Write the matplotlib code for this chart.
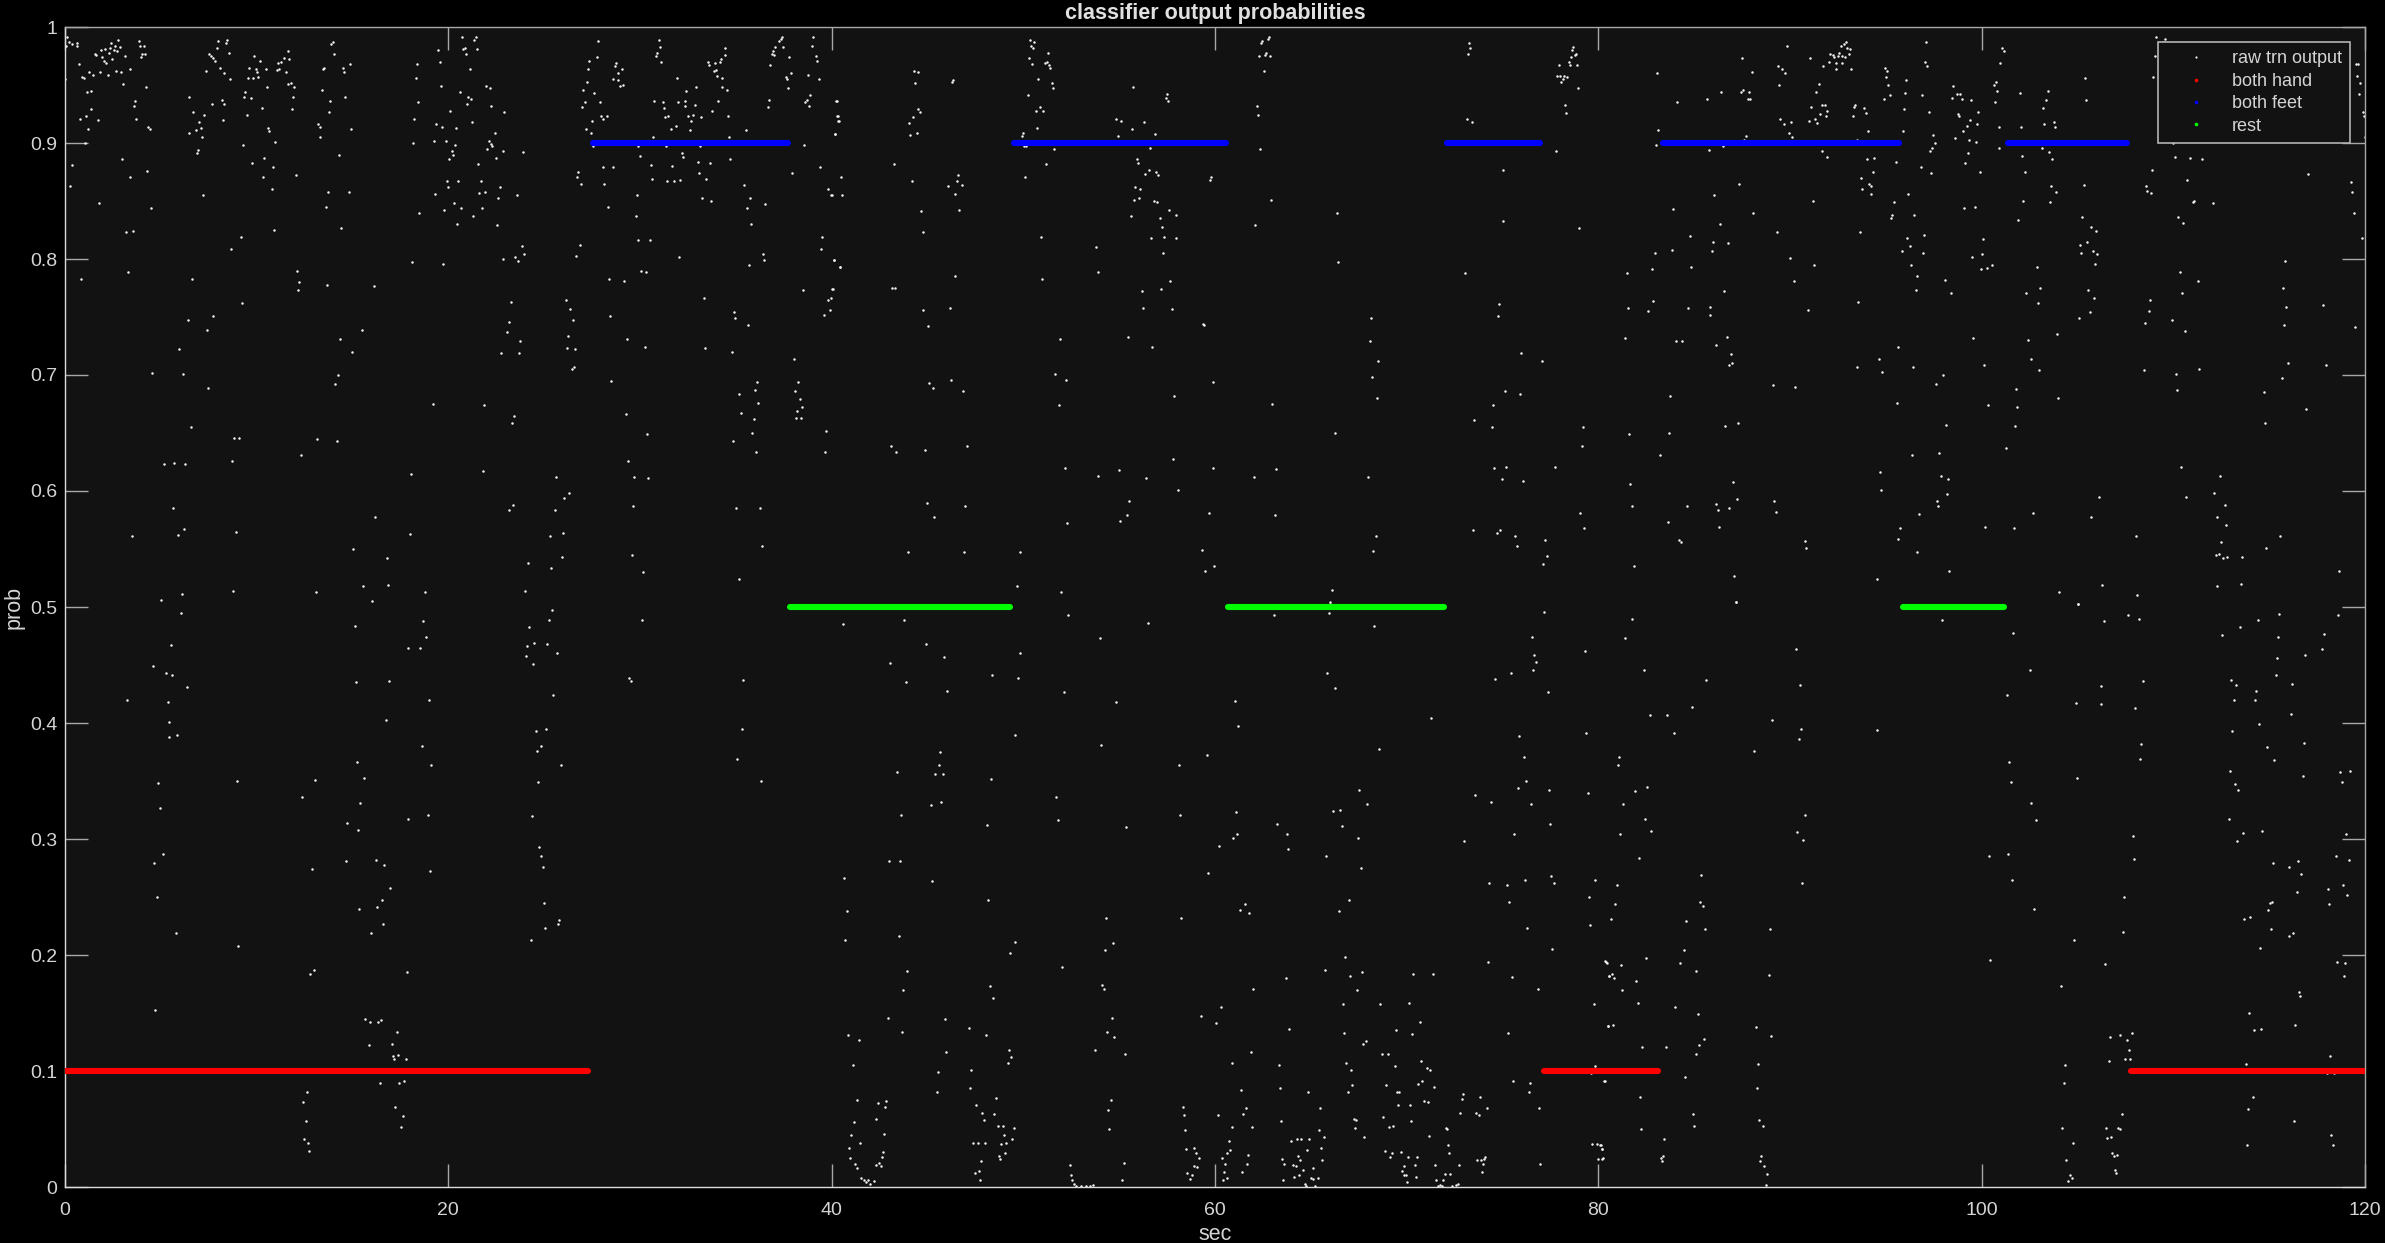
import numpy as np
import matplotlib
matplotlib.use("Agg")
import matplotlib.pyplot as plt
from matplotlib.lines import Line2D
from matplotlib.ticker import FuncFormatter

plt.rcParams['font.family'] = ['Liberation Sans', 'DejaVu Sans']

# raw classifier output (sec, prob)
raw_upper_0_40 = [
    (0.13, 0.991), (0.21, 0.987), (0.05, 0.984), (0.39, 0.985), (0.60, 0.984), (0.65, 0.986),
    (1.56, 0.977), (1.64, 0.976), (1.90, 0.980), (2.08, 0.981), (2.29, 0.978), (2.42, 0.986),
    (2.60, 0.984), (2.78, 0.989), (2.86, 0.983), (2.55, 0.980), (2.73, 0.979), (2.34, 0.982),
    (1.95, 0.974), (2.03, 0.971), (2.16, 0.969), (2.47, 0.972), (3.12, 0.975), (3.84, 0.988),
    (3.90, 0.984), (4.10, 0.984), (4.03, 0.977), (4.16, 0.977), (3.97, 0.974), (0.91, 0.957),
    (0.99, 0.956), (1.25, 0.961), (1.45, 0.959), (1.82, 0.961), (2.23, 0.959), (2.67, 0.962),
    (2.93, 0.961), (3.38, 0.964), (0.73, 0.968), (3.04, 0.951), (0.02, 0.955),
    (1.14, 0.944), (1.38, 0.945), (1.35, 0.929), (0.78, 0.921), (1.09, 0.923), (1.71, 0.920),
    (1.22, 0.912), (3.64, 0.936), (3.58, 0.932), (3.71, 0.921), (4.23, 0.948), (4.31, 0.914),
    (4.42, 0.912), (1.04, 0.900), (0.34, 0.881), (0.26, 0.863), (2.99, 0.886), (3.40, 0.871),
    (4.29, 0.876), (1.77, 0.848), (4.47, 0.844), (3.17, 0.823), (3.56, 0.824), (0.83, 0.783),
    (3.30, 0.789), (4.52, 0.702), (3.48, 0.561), (5.01, 0.506), (6.10, 0.511),
    (8.00, 0.988), (8.44, 0.989), (8.39, 0.986), (7.92, 0.982), (8.57, 0.978), (7.53, 0.977),
    (7.61, 0.975), (7.74, 0.973), (7.84, 0.971), (7.35, 0.962), (8.10, 0.965), (8.31, 0.960),
    (8.62, 0.955), (6.47, 0.940), (6.70, 0.927), (7.27, 0.924), (7.01, 0.918), (7.09, 0.913),
    (6.81, 0.911), (6.49, 0.909), (7.14, 0.905), (8.18, 0.937), (8.31, 0.934), (7.66, 0.934),
    (8.23, 0.920), (6.96, 0.894), (6.88, 0.891), (7.22, 0.855), (9.84, 0.975), (10.18, 0.971),
    (9.61, 0.965), (9.95, 0.964), (10.00, 0.961), (9.56, 0.956), (9.79, 0.956), (10.08, 0.957),
    (10.47, 0.964), (9.40, 0.944), (9.35, 0.940), (9.69, 0.939), (9.48, 0.924), (10.26, 0.930),
    (10.55, 0.948), (10.60, 0.913), (10.65, 0.910), (10.96, 0.901), (9.30, 0.898), (9.74, 0.883),
    (10.39, 0.887), (10.86, 0.879), (10.34, 0.871), (10.78, 0.860), (10.91, 0.825), (9.17, 0.819),
    (8.68, 0.809), (11.09, 0.969), (11.25, 0.970), (11.43, 0.973), (11.64, 0.979), (11.69, 0.972),
    (11.17, 0.964), (11.04, 0.963), (11.51, 0.961), (11.61, 0.951), (11.77, 0.952), (11.95, 0.948),
    (11.90, 0.940), (11.82, 0.929), (12.03, 0.872),
    (13.97, 0.987), (13.90, 0.985), (14.03, 0.977), (13.51, 0.965), (13.45, 0.964), (14.49, 0.965),
    (14.86, 0.968), (14.55, 0.961), (13.43, 0.946), (13.84, 0.936), (14.60, 0.940), (13.79, 0.927),
    (13.22, 0.916), (13.32, 0.914), (13.30, 0.905), (14.94, 0.912), (14.29, 0.890), (13.71, 0.858),
    (14.80, 0.858), (13.61, 0.845), (14.42, 0.827),
    (6.65, 0.783), (12.08, 0.790), (12.21, 0.780), (12.16, 0.773), (13.69, 0.778), (16.10, 0.777),
    (9.22, 0.762), (6.42, 0.747), (7.71, 0.751), (7.40, 0.739), (5.97, 0.722), (6.16, 0.701),
    (7.48, 0.689), (14.36, 0.731), (15.48, 0.739), (14.99, 0.720), (14.23, 0.700), (14.10, 0.692),
    (6.57, 0.655), (8.83, 0.646), (9.09, 0.646), (8.70, 0.626), (13.17, 0.645), (14.18, 0.643),
    (12.29, 0.631), (5.19, 0.623), (5.71, 0.624), (6.26, 0.623), (5.66, 0.585), (6.21, 0.567),
    (5.90, 0.562), (8.91, 0.565), (16.16, 0.578), (15.04, 0.550), (16.78, 0.542), (15.53, 0.518),
    (16.83, 0.519), (8.78, 0.514), (13.12, 0.513), (16.03, 0.505), (18.78, 0.513), (18.05, 0.615),
    (18.00, 0.563), (19.20, 0.675), (21.84, 0.674),
    (20.73, 0.991), (21.43, 0.991), (21.35, 0.989), (20.86, 0.982), (20.78, 0.981), (21.48, 0.981),
    (20.94, 0.977), (19.48, 0.980), (19.56, 0.970), (18.36, 0.968), (18.31, 0.956), (21.12, 0.964),
    (19.61, 0.949), (20.60, 0.944), (21.04, 0.940), (21.17, 0.938), (20.99, 0.934), (21.95, 0.949),
    (22.15, 0.947), (22.23, 0.932), (18.44, 0.935), (20.10, 0.928), (22.93, 0.927), (18.23, 0.921),
    (19.38, 0.916), (19.69, 0.914), (20.42, 0.913), (21.25, 0.918), (22.42, 0.909), (18.18, 0.900),
    (19.25, 0.902), (19.87, 0.902), (20.36, 0.898), (20.18, 0.893), (20.26, 0.890), (20.05, 0.886),
    (22.10, 0.902), (22.21, 0.899), (22.29, 0.897), (22.03, 0.895), (22.86, 0.893), (23.87, 0.892),
    (22.49, 0.887), (21.56, 0.882), (19.92, 0.867), (20.00, 0.862), (20.52, 0.867), (21.69, 0.867),
    (19.30, 0.856), (21.61, 0.857), (21.90, 0.858), (22.68, 0.862), (22.60, 0.853), (23.56, 0.855),
    (20.31, 0.848), (20.68, 0.844), (19.79, 0.842), (21.30, 0.837), (21.74, 0.844), (18.49, 0.840),
    (20.47, 0.830), (22.52, 0.829), (18.10, 0.797), (19.74, 0.796), (22.83, 0.800), (23.48, 0.802),
    (23.61, 0.798), (23.82, 0.811), (23.95, 0.804),
    (23.25, 0.763), (23.19, 0.746), (23.06, 0.737), (23.74, 0.729), (22.75, 0.719), (23.69, 0.719),
    (26.13, 0.765), (26.36, 0.757), (26.49, 0.747), (26.23, 0.734), (26.18, 0.723), (26.60, 0.722),
    (26.44, 0.705), (26.55, 0.707), (23.43, 0.665), (23.30, 0.659), (21.79, 0.617), (23.38, 0.588),
    (23.14, 0.584), (25.61, 0.612), (26.29, 0.598), (26.05, 0.594), (25.56, 0.584), (25.97, 0.564),
    (25.32, 0.561), (25.92, 0.543), (25.38, 0.534), (24.16, 0.538), (24.00, 0.514),
    (27.82, 0.988), (27.35, 0.971), (27.74, 0.974), (27.30, 0.964), (27.22, 0.953), (27.04, 0.946),
    (27.61, 0.943), (27.12, 0.935), (26.99, 0.931), (27.90, 0.935), (27.51, 0.919), (27.95, 0.923),
    (28.05, 0.921), (28.26, 0.923), (27.17, 0.912), (27.43, 0.909), (28.73, 0.969), (28.68, 0.966),
    (29.04, 0.964), (28.86, 0.960), (28.60, 0.955), (28.83, 0.954), (29.09, 0.950), (28.96, 0.949),
    (27.56, 0.897), (26.78, 0.875), (26.73, 0.871), (26.93, 0.865), (28.08, 0.879), (28.57, 0.879),
    (28.13, 0.865), (28.31, 0.845), (29.82, 0.855), (29.77, 0.837), (29.87, 0.816), (30.52, 0.816),
    (26.86, 0.812), (26.68, 0.803), (28.39, 0.783), (29.19, 0.781), (30.05, 0.790), (30.31, 0.789),
    (28.44, 0.751), (29.30, 0.731), (30.26, 0.724), (28.49, 0.695), (29.25, 0.666), (30.36, 0.649),
    (29.38, 0.626), (29.69, 0.612), (30.44, 0.611), (29.64, 0.587), (29.56, 0.545), (30.18, 0.530),
    (30.99, 0.989), (31.06, 0.983), (30.91, 0.978), (30.83, 0.975), (31.12, 0.970), (31.95, 0.956),
    (32.42, 0.945), (30.75, 0.936), (31.19, 0.935), (31.25, 0.930), (32.00, 0.935), (32.34, 0.936),
    (32.34, 0.932), (32.86, 0.933), (31.32, 0.922), (31.48, 0.923), (32.49, 0.923), (32.78, 0.924),
    (32.68, 0.919), (31.90, 0.915), (31.61, 0.912), (32.60, 0.911), (33.19, 0.922), (33.77, 0.928),
    (34.08, 0.936), (32.93, 0.948), (33.53, 0.970), (33.58, 0.967), (33.90, 0.969), (34.16, 0.970),
    (34.21, 0.972), (34.44, 0.982), (34.42, 0.976), (33.84, 0.962), (33.97, 0.963), (34.03, 0.958),
    (34.29, 0.956), (34.52, 0.946), (34.26, 0.948), (34.57, 0.923), (34.62, 0.905), (35.51, 0.911),
    (30.68, 0.905), (29.92, 0.897), (31.38, 0.897), (33.14, 0.897), (30.00, 0.889), (30.57, 0.881),
    (31.66, 0.880), (32.18, 0.891), (32.23, 0.888), (33.01, 0.884), (33.64, 0.883), (34.70, 0.886),
    (30.62, 0.869), (31.43, 0.867), (31.79, 0.867), (32.10, 0.868), (33.06, 0.874), (33.45, 0.869),
    (33.25, 0.853), (33.69, 0.850), (35.45, 0.864), (35.74, 0.853), (35.56, 0.844), (36.54, 0.847),
    (35.79, 0.830), (32.05, 0.802), (33.32, 0.766), (34.88, 0.754), (34.96, 0.749), (35.61, 0.743),
    (33.38, 0.723), (34.78, 0.720), (36.42, 0.804), (36.49, 0.799), (35.69, 0.795),
    (36.13, 0.694), (36.00, 0.687), (35.19, 0.684), (36.18, 0.676), (35.25, 0.667), (35.95, 0.662),
    (35.84, 0.650), (36.05, 0.634), (34.83, 0.643), (35.01, 0.585), (36.26, 0.585), (36.36, 0.553),
    (35.14, 0.524), (38.03, 0.714), (38.26, 0.694), (38.08, 0.686), (38.34, 0.679), (38.44, 0.672),
    (38.21, 0.669), (38.16, 0.663), (38.39, 0.663), (39.69, 0.652), (39.64, 0.634), (39.50, 0.819),
    (39.43, 0.809), (40.13, 0.799), (40.41, 0.793), (40.08, 0.774), (39.79, 0.765), (39.95, 0.766),
    (39.90, 0.756), (39.58, 0.752), (38.52, 0.773), (39.38, 0.879), (39.82, 0.860), (39.95, 0.855),
    (37.95, 0.874), (38.57, 0.898),
    (37.40, 0.991), (37.35, 0.990), (37.25, 0.988), (37.48, 0.983), (37.06, 0.983), (36.93, 0.979),
    (36.88, 0.977), (36.99, 0.976), (37.79, 0.974), (36.80, 0.967), (37.87, 0.960), (37.61, 0.957),
    (37.66, 0.955), (37.74, 0.947), (36.73, 0.937), (36.67, 0.931), (39.01, 0.991), (38.96, 0.984),
    (39.17, 0.975), (39.25, 0.971), (38.75, 0.959), (39.32, 0.955), (38.88, 0.941), (38.70, 0.937),
    (38.62, 0.935), (38.81, 0.932), (40.26, 0.936), (40.31, 0.923), (40.39, 0.919), (40.18, 0.908),
]

raw_lower_0_40 = [
    (6.03, 0.495), (5.51, 0.467), (4.60, 0.449), (5.27, 0.443), (5.58, 0.441), (6.34, 0.431),
    (3.22, 0.420), (5.35, 0.418), (5.45, 0.401), (5.84, 0.390), (5.40, 0.388), (4.83, 0.348),
    (4.96, 0.327), (5.09, 0.287), (4.65, 0.279), (4.78, 0.250), (5.77, 0.219), (4.70, 0.153),
    (5.14, 0.102), (8.99, 0.350), (9.04, 0.208),
    (15.12, 0.484), (18.68, 0.488), (18.86, 0.474), (17.92, 0.465), (18.54, 0.465), (15.17, 0.435),
    (16.91, 0.436), (18.99, 0.420), (16.73, 0.403), (18.60, 0.380), (19.12, 0.364), (15.22, 0.366),
    (15.58, 0.353), (13.04, 0.351), (12.34, 0.336), (15.40, 0.331), (14.73, 0.314), (15.27, 0.308),
    (17.87, 0.317), (18.93, 0.321), (14.68, 0.281), (16.21, 0.282), (16.65, 0.278), (12.91, 0.274),
    (19.04, 0.272), (16.96, 0.258), (16.55, 0.247), (15.35, 0.240), (16.29, 0.241), (16.60, 0.227),
    (15.97, 0.219), (12.80, 0.184), (12.99, 0.187), (17.82, 0.185), (15.66, 0.145), (15.92, 0.142),
    (16.34, 0.142), (16.47, 0.144), (17.30, 0.134), (15.84, 0.122), (17.04, 0.123), (17.12, 0.113),
    (17.35, 0.114), (17.17, 0.110), (17.77, 0.110), (15.71, 0.101), (16.41, 0.090), (17.43, 0.090),
    (17.69, 0.091), (12.60, 0.082), (12.42, 0.073), (12.55, 0.057), (12.47, 0.041), (12.68, 0.038),
    (12.75, 0.031), (17.22, 0.069), (17.61, 0.061), (17.53, 0.052),
    (25.43, 0.497), (25.25, 0.489), (24.23, 0.483), (24.10, 0.466), (24.49, 0.469), (25.17, 0.468),
    (25.66, 0.460), (24.05, 0.458), (24.44, 0.451), (25.48, 0.424), (24.57, 0.393), (25.12, 0.395),
    (24.86, 0.380), (24.62, 0.376), (25.87, 0.364), (24.68, 0.349), (24.36, 0.320), (24.75, 0.293),
    (24.81, 0.285), (24.94, 0.276), (25.01, 0.245), (25.79, 0.230), (25.74, 0.227), (25.06, 0.223),
    (24.31, 0.213),
    (30.13, 0.489), (29.43, 0.439), (29.51, 0.436), (35.38, 0.437), (35.32, 0.395), (35.06, 0.369),
    (36.31, 0.350),
]

raw_upper_40_80 = [
    (40.22, 0.936), (40.27, 0.923), (40.35, 0.919), (40.17, 0.908), (40.48, 0.871), (40.00, 0.855),
    (40.53, 0.855), (40.12, 0.799), (40.43, 0.793), (40.04, 0.774), (44.30, 0.962), (44.53, 0.961),
    (44.37, 0.952), (46.27, 0.953), (46.35, 0.954), (44.48, 0.929), (44.61, 0.927), (44.25, 0.922),
    (44.04, 0.917), (44.43, 0.909), (44.11, 0.907), (43.23, 0.882), (44.17, 0.867), (46.58, 0.872),
    (46.53, 0.867), (46.79, 0.864), (46.09, 0.863), (46.43, 0.856), (44.66, 0.841), (46.66, 0.842),
    (44.79, 0.823), (46.45, 0.785), (43.15, 0.775), (43.28, 0.775), (44.74, 0.756), (46.16, 0.758),
    (45.05, 0.742), (45.10, 0.693), (45.28, 0.689), (46.22, 0.696), (46.84, 0.686), (43.10, 0.639),
    (43.36, 0.634), (44.87, 0.635), (47.05, 0.639), (44.97, 0.590), (46.97, 0.587), (45.36, 0.578),
    (43.98, 0.547), (46.89, 0.547), (47.07, 0.501),
    (50.34, 0.989), (50.58, 0.987), (50.42, 0.984), (50.53, 0.982), (51.28, 0.978), (50.29, 0.973),
    (50.47, 0.968), (51.12, 0.969), (51.23, 0.970), (51.36, 0.967), (51.41, 0.965), (50.78, 0.955),
    (51.49, 0.952), (51.54, 0.947), (50.24, 0.941), (50.86, 0.931), (50.66, 0.928), (51.04, 0.928),
    (50.73, 0.913), (49.98, 0.909), (49.93, 0.906), (50.03, 0.897), (50.16, 0.897), (51.62, 0.895),
    (51.17, 0.882), (50.11, 0.871), (50.91, 0.819), (50.99, 0.783), (51.90, 0.731), (51.67, 0.701),
    (52.21, 0.696), (51.85, 0.674), (52.16, 0.620), (53.92, 0.613), (52.29, 0.572), (49.85, 0.547),
    (49.67, 0.518), (51.98, 0.513),
    (55.74, 0.948), (57.48, 0.942), (57.43, 0.939), (57.53, 0.936), (54.86, 0.921), (55.12, 0.919),
    (56.29, 0.918), (55.66, 0.912), (54.94, 0.906), (56.86, 0.908), (56.60, 0.896), (55.92, 0.886),
    (55.98, 0.883), (56.55, 0.877), (56.34, 0.873), (56.91, 0.875), (57.04, 0.872), (55.85, 0.862),
    (56.10, 0.860), (55.79, 0.851), (56.05, 0.853), (56.80, 0.850), (56.99, 0.849), (57.58, 0.842),
    (57.99, 0.838), (55.61, 0.837), (57.12, 0.835), (57.22, 0.828), (56.65, 0.818), (57.35, 0.819),
    (57.95, 0.818), (57.27, 0.805), (53.80, 0.810), (53.87, 0.789), (57.66, 0.781), (56.18, 0.772),
    (57.17, 0.774), (56.23, 0.758), (57.74, 0.757), (55.48, 0.733), (56.73, 0.724), (59.38, 0.744),
    (59.43, 0.743), (59.79, 0.871), (59.74, 0.868), (59.87, 0.694), (57.87, 0.682), (57.82, 0.628),
    (59.92, 0.620), (56.42, 0.611), (54.99, 0.618), (58.05, 0.601), (55.53, 0.591), (55.40, 0.579),
    (55.04, 0.574), (59.69, 0.581), (59.30, 0.549), (59.97, 0.535), (59.48, 0.531),
    (62.80, 0.991), (62.75, 0.990), (62.46, 0.988), (62.41, 0.986), (62.64, 0.978), (62.59, 0.976),
    (62.88, 0.975), (62.28, 0.975), (62.54, 0.962), (62.18, 0.932), (62.23, 0.924), (62.36, 0.895),
    (62.93, 0.851), (62.10, 0.829), (66.36, 0.840), (66.41, 0.797), (68.12, 0.749), (68.07, 0.729),
    (68.49, 0.712), (68.17, 0.698), (68.43, 0.680), (62.98, 0.675), (66.28, 0.650), (62.02, 0.612),
    (63.16, 0.619), (67.99, 0.612), (63.11, 0.579), (68.38, 0.561), (68.25, 0.548), (66.10, 0.515),
    (65.99, 0.504),
    (73.26, 0.986), (73.31, 0.982), (73.21, 0.977), (73.13, 0.921), (73.39, 0.918), (75.05, 0.877),
    (75.00, 0.833), (77.80, 0.893), (73.05, 0.788), (74.82, 0.761), (74.77, 0.751), (75.99, 0.719),
    (77.05, 0.712), (75.13, 0.686), (75.93, 0.684), (74.51, 0.674), (73.52, 0.661), (74.43, 0.655),
    (79.18, 0.655), (79.13, 0.639), (74.56, 0.620), (75.18, 0.621), (74.95, 0.610), (76.06, 0.609),
    (77.72, 0.621), (79.05, 0.581), (79.26, 0.568), (73.44, 0.566), (74.69, 0.564), (74.87, 0.566),
    (75.67, 0.561), (75.75, 0.553), (77.23, 0.558), (77.31, 0.544), (77.10, 0.537), (78.99, 0.827),
    (78.69, 0.983), (78.63, 0.980), (78.81, 0.977), (78.76, 0.976), (78.58, 0.974), (78.45, 0.970),
    (78.53, 0.967), (77.93, 0.967), (78.89, 0.967), (77.85, 0.958), (77.98, 0.958), (78.19, 0.958),
    (78.37, 0.957), (78.14, 0.955), (78.06, 0.953), (78.94, 0.947), (78.27, 0.933), (78.32, 0.926),
]

raw_lower_40_80 = [
    (40.61, 0.485), (43.78, 0.489), (44.92, 0.468), (45.85, 0.457), (43.05, 0.452), (43.86, 0.435),
    (46.04, 0.428), (45.67, 0.375), (45.59, 0.364), (45.41, 0.356), (45.80, 0.356), (43.41, 0.358),
    (45.72, 0.332), (45.18, 0.329), (43.62, 0.321), (42.99, 0.281), (43.54, 0.281), (45.23, 0.264),
    (40.66, 0.266), (40.79, 0.238), (40.71, 0.213), (43.49, 0.216), (43.93, 0.186), (43.73, 0.170),
    (42.95, 0.146), (45.90, 0.145), (43.67, 0.134), (40.84, 0.131), (41.42, 0.127), (45.96, 0.116),
    (41.10, 0.105), (45.54, 0.099), (45.49, 0.082), (41.34, 0.075), (42.40, 0.072), (42.84, 0.074),
    (42.79, 0.069), (41.16, 0.056), (42.32, 0.059), (42.71, 0.046), (41.03, 0.045), (41.47, 0.038),
    (40.90, 0.034), (42.66, 0.030), (42.61, 0.026), (40.97, 0.025), (41.21, 0.020), (42.30, 0.019),
    (42.48, 0.021), (42.56, 0.018), (41.31, 0.016), (41.52, 0.008), (41.67, 0.006), (41.80, 0.004),
    (41.99, 0.003), (42.19, 0.005), (41.91, 0.006),
    (48.35, 0.441), (49.72, 0.439), (49.80, 0.460), (49.59, 0.390), (48.29, 0.352), (48.11, 0.312),
    (48.16, 0.247), (49.54, 0.211), (49.28, 0.202), (48.24, 0.173), (48.42, 0.163), (47.15, 0.137),
    (48.06, 0.131), (49.23, 0.118), (49.36, 0.112), (49.18, 0.107), (47.28, 0.101), (47.23, 0.085),
    (48.55, 0.077), (47.54, 0.071), (48.48, 0.063), (47.85, 0.064), (47.93, 0.058), (48.68, 0.053),
    (48.94, 0.053), (49.49, 0.051), (48.97, 0.045), (49.41, 0.041), (47.36, 0.038), (47.62, 0.038),
    (48.01, 0.038), (48.86, 0.037), (49.10, 0.038), (49.02, 0.029), (48.73, 0.027), (48.79, 0.024),
    (47.77, 0.022), (47.67, 0.014), (47.49, 0.012), (47.75, 0.006),
    (52.34, 0.493), (54.00, 0.473), (56.50, 0.486), (52.10, 0.427), (54.81, 0.418), (54.06, 0.381),
    (51.72, 0.336), (51.80, 0.316), (55.35, 0.310), (54.29, 0.232), (54.68, 0.210), (54.24, 0.204),
    (52.03, 0.190), (54.11, 0.174), (54.19, 0.171), (54.63, 0.146), (54.37, 0.134), (54.73, 0.129),
    (53.74, 0.118), (55.30, 0.115), (54.55, 0.075), (54.42, 0.066), (54.47, 0.050), (55.25, 0.021),
    (55.17, 0.006), (52.42, 0.019), (52.47, 0.010), (52.55, 0.006), (52.63, 0.003), (52.76, 0.001),
    (53.02, 0.001), (53.28, 0.001), (53.46, 0.001), (53.61, 0.002),
    (58.13, 0.364), (59.56, 0.372), (58.18, 0.321), (58.23, 0.232), (59.63, 0.271), (59.25, 0.147),
    (60.05, 0.141), (60.31, 0.155), (58.31, 0.069), (58.36, 0.062), (58.44, 0.049), (58.49, 0.033),
    (58.93, 0.034), (59.01, 0.029), (59.17, 0.025), (58.88, 0.018), (59.06, 0.017), (58.54, 0.012),
    (58.78, 0.010), (58.67, 0.007), (60.18, 0.062), (60.88, 0.052), (60.72, 0.040), (60.80, 0.032),
    (60.65, 0.029), (60.36, 0.025), (60.54, 0.020), (61.43, 0.013), (60.46, 0.013), (60.62, 0.008),
    (60.41, 0.006), (61.35, 0.084), (61.61, 0.068), (61.48, 0.063), (61.92, 0.052), (61.71, 0.028),
    (61.66, 0.020), (60.91, 0.107), (61.87, 0.116), (61.97, 0.171),
    (61.04, 0.419), (61.22, 0.397), (61.11, 0.323), (60.96, 0.301), (61.17, 0.304), (60.23, 0.294),
    (61.55, 0.244), (61.30, 0.239), (61.79, 0.236), (63.06, 0.493), (65.94, 0.495), (65.99, 0.503),
    (68.30, 0.484), (65.86, 0.443), (66.25, 0.430), (71.29, 0.404), (68.56, 0.378), (67.52, 0.342),
    (67.91, 0.330), (66.17, 0.324), (66.54, 0.325), (66.62, 0.311), (67.47, 0.301), (63.24, 0.313),
    (63.76, 0.304), (63.81, 0.291), (65.79, 0.285), (67.60, 0.275), (66.98, 0.247), (66.49, 0.238),
    (66.80, 0.198), (65.73, 0.187), (67.03, 0.182), (67.65, 0.185), (63.68, 0.180), (67.42, 0.170),
    (66.67, 0.158), (68.61, 0.158), (70.12, 0.159), (70.35, 0.184), (71.37, 0.184), (69.45, 0.135),
    (70.30, 0.132), (70.69, 0.142), (63.87, 0.136), (66.72, 0.133), (67.86, 0.126), (67.73, 0.123),
    (68.69, 0.115), (69.00, 0.115), (66.85, 0.107), (67.11, 0.101), (69.37, 0.104), (70.74, 0.109),
    (71.05, 0.103), (71.24, 0.101), (63.32, 0.105), (67.16, 0.088), (66.93, 0.082), (63.37, 0.085),
    (64.85, 0.082), (68.93, 0.088), (69.50, 0.082), (69.60, 0.082), (70.61, 0.089), (70.82, 0.091),
    (71.42, 0.086), (70.92, 0.074), (71.11, 0.073), (70.17, 0.071), (69.55, 0.071), (65.50, 0.068),
    (67.24, 0.059), (67.34, 0.058), (67.29, 0.051), (68.75, 0.060), (70.25, 0.057), (69.08, 0.052),
    (69.29, 0.053), (67.79, 0.043), (63.45, 0.057), (65.42, 0.049), (65.68, 0.043), (63.94, 0.040),
    (64.26, 0.041), (64.49, 0.041), (64.93, 0.041), (65.55, 0.034), (64.80, 0.032), (64.31, 0.027),
    (64.44, 0.023), (63.50, 0.024), (63.61, 0.020), (64.07, 0.019), (64.23, 0.018), (65.60, 0.023),
    (64.57, 0.015), (65.09, 0.016), (64.39, 0.010), (64.13, 0.009), (63.55, 0.006), (65.01, 0.008),
    (65.09, 0.007), (65.37, 0.008), (64.67, 0.003), (64.75, 0.001), (65.22, 0.001), (68.85, 0.031),
    (69.21, 0.029), (69.13, 0.026), (69.68, 0.030), (70.07, 0.026), (70.56, 0.026), (69.86, 0.018),
    (70.43, 0.019), (69.76, 0.014), (69.84, 0.010), (69.94, 0.010), (70.48, 0.009), (70.02, 0.004),
    (71.16, 0.044), (72.04, 0.051), (72.12, 0.050), (72.17, 0.036), (72.22, 0.029), (71.50, 0.019),
    (72.72, 0.019), (72.00, 0.011), (72.27, 0.011), (71.91, 0.006), (71.73, 0.002), (71.63, 0.001),
    (71.83, 0.001), (72.35, 0.001), (72.56, 0.002), (72.67, 0.003), (71.55, 0.006),
    (77.15, 0.496), (76.53, 0.474), (76.66, 0.459), (76.76, 0.453), (76.61, 0.446), (79.31, 0.462),
    (77.36, 0.427), (75.44, 0.443), (74.61, 0.438), (79.36, 0.391), (75.86, 0.389), (76.12, 0.371),
    (76.22, 0.350), (75.80, 0.344), (77.41, 0.342), (76.48, 0.330), (79.44, 0.340), (73.55, 0.338),
    (74.38, 0.332), (77.49, 0.313), (75.62, 0.304), (72.98, 0.298), (74.30, 0.262), (75.23, 0.260),
    (76.17, 0.265), (77.54, 0.268), (77.67, 0.262), (79.80, 0.265), (75.36, 0.246), (79.49, 0.250),
    (76.30, 0.223), (79.57, 0.226), (77.59, 0.205), (74.25, 0.194), (75.49, 0.181), (76.87, 0.171),
    (79.75, 0.158), (75.31, 0.133), (80.50, 0.139), (80.42, 0.194), (80.55, 0.182), (75.54, 0.091),
    (76.43, 0.090), (76.37, 0.082), (72.93, 0.080), (73.80, 0.078), (72.87, 0.076), (74.19, 0.068),
    (72.79, 0.064), (73.62, 0.064), (73.75, 0.062), (76.92, 0.068), (79.67, 0.037), (79.91, 0.037),
    (80.09, 0.036), (80.19, 0.033), (79.99, 0.024), (80.19, 0.024), (74.09, 0.026), (74.01, 0.024),
    (73.68, 0.023), (73.86, 0.023), (73.98, 0.020), (73.93, 0.013), (76.97, 0.020), (79.62, 0.098),
    (79.83, 0.104), (80.35, 0.091),
]

raw_upper_80_120 = [
    (83.07, 0.960), (83.13, 0.911), (83.02, 0.898), (84.11, 0.935), (86.42, 0.944), (85.67, 0.938),
    (87.49, 0.973), (88.01, 0.961), (87.44, 0.944), (87.56, 0.946), (87.88, 0.944), (87.80, 0.938),
    (87.93, 0.938), (89.82, 0.984), (89.38, 0.966), (89.56, 0.964), (89.75, 0.960), (89.43, 0.950),
    (89.49, 0.921), (89.69, 0.916), (90.06, 0.918), (89.93, 0.909), (90.13, 0.905), (89.64, 0.902),
    (87.72, 0.906), (87.62, 0.903), (85.75, 0.894), (86.50, 0.897), (91.04, 0.973), (91.74, 0.966),
    (92.11, 0.977), (92.24, 0.976), (92.55, 0.978), (92.65, 0.984), (92.81, 0.985), (92.94, 0.987),
    (92.99, 0.982), (93.12, 0.981), (93.07, 0.977), (92.89, 0.974), (92.73, 0.975), (92.50, 0.975),
    (92.31, 0.974), (92.05, 0.970), (92.42, 0.969), (92.70, 0.969), (92.42, 0.964), (93.20, 0.964),
    (91.51, 0.951), (91.35, 0.944), (91.67, 0.933), (91.80, 0.933), (91.95, 0.928), (91.54, 0.925),
    (91.87, 0.923), (91.30, 0.921), (91.43, 0.917), (90.99, 0.919), (91.12, 0.931), (93.40, 0.933),
    (93.35, 0.931), (93.87, 0.930), (93.95, 0.926), (93.27, 0.923), (94.08, 0.910), (93.48, 0.903),
    (91.69, 0.893), (91.92, 0.888), (94.96, 0.965), (95.07, 0.962), (95.01, 0.957), (95.12, 0.950),
    (94.89, 0.938), (95.20, 0.941), (96.05, 0.954), (96.00, 0.943), (95.95, 0.929), (95.87, 0.910),
    (97.12, 0.987), (97.06, 0.970), (97.17, 0.966), (96.88, 0.941), (97.25, 0.927), (97.48, 0.907),
    (97.56, 0.900), (97.43, 0.896), (97.30, 0.893), (96.83, 0.879), (97.38, 0.874), (94.03, 0.886),
    (94.36, 0.887), (95.51, 0.884), (94.31, 0.875), (93.69, 0.870), (94.13, 0.865), (94.21, 0.863),
    (93.77, 0.860), (94.24, 0.856), (96.18, 0.856), (95.43, 0.849), (95.30, 0.838), (95.27, 0.835),
    (96.49, 0.838), (93.64, 0.823), (96.13, 0.818), (96.99, 0.821), (96.26, 0.811), (95.82, 0.807),
    (96.93, 0.805), (96.31, 0.795), (96.62, 0.785), (96.57, 0.773), (98.08, 0.782), (98.41, 0.771),
    (93.56, 0.763),
    (98.49, 0.949), (98.70, 0.942), (98.88, 0.942), (98.47, 0.939), (98.96, 0.938), (99.43, 0.937),
    (98.78, 0.925), (98.83, 0.923), (99.81, 0.927), (99.37, 0.920), (99.22, 0.915), (99.74, 0.916),
    (99.01, 0.910), (98.62, 0.904), (99.35, 0.903), (99.69, 0.901), (99.27, 0.891), (99.14, 0.883),
    (99.89, 0.875), (99.09, 0.844), (99.63, 0.845), (101.06, 0.982), (101.16, 0.979), (100.98, 0.969),
    (100.75, 0.953), (100.65, 0.950), (100.80, 0.945), (100.70, 0.935), (100.93, 0.914), (100.88, 0.896),
    (100.07, 0.817), (100.02, 0.804), (100.52, 0.795), (100.28, 0.792), (99.94, 0.791), (99.50, 0.802),
    (99.56, 0.732), (100.13, 0.709), (102.00, 0.943), (102.07, 0.914), (102.13, 0.889), (102.25, 0.875),
    (102.18, 0.850), (101.92, 0.834), (102.88, 0.793), (102.31, 0.771), (103.06, 0.775), (102.93, 0.762),
    (103.45, 0.945), (103.37, 0.937), (103.19, 0.930), (103.27, 0.916), (103.76, 0.918), (103.81, 0.914),
    (103.14, 0.896), (103.50, 0.892), (103.68, 0.886), (103.63, 0.863), (103.89, 0.858), (103.58, 0.849),
    (102.44, 0.730), (103.94, 0.735), (102.59, 0.714), (102.98, 0.704), (105.37, 0.956), (105.45, 0.937),
    (105.32, 0.864), (105.24, 0.836), (105.73, 0.828), (105.99, 0.824), (105.50, 0.815), (105.13, 0.812),
    (105.81, 0.807), (105.19, 0.805), (106.04, 0.804), (105.91, 0.796), (105.55, 0.773), (105.86, 0.766),
    (105.63, 0.754), (105.06, 0.749), (103.97, 0.680), (101.81, 0.688), (101.86, 0.672), (101.74, 0.656),
    (101.27, 0.637), (100.31, 0.674), (98.13, 0.657), (97.79, 0.633), (97.87, 0.613), (98.23, 0.610),
    (98.18, 0.597), (97.69, 0.591), (97.74, 0.587), (96.73, 0.580), (95.74, 0.568), (95.66, 0.559),
    (96.65, 0.547), (98.31, 0.531), (100.18, 0.569), (101.68, 0.568), (102.67, 0.581), (106.12, 0.595),
    (105.71, 0.578), (108.04, 0.561), (106.30, 0.519), (108.12, 0.510), (104.05, 0.513), (105.00, 0.503),
    (96.36, 0.631), (94.70, 0.616), (94.75, 0.601), (95.56, 0.676), (97.61, 0.692), (98.00, 0.700),
    (96.42, 0.707), (95.61, 0.724), (94.62, 0.714), (94.80, 0.703), (93.48, 0.707), (94.55, 0.524),
    (90.78, 0.557), (90.86, 0.551), (89.17, 0.591), (89.25, 0.582), (87.18, 0.504), (87.10, 0.527),
    (87.05, 0.608), (87.23, 0.593), (86.16, 0.589), (86.24, 0.584), (86.84, 0.585), (86.32, 0.569),
    (84.63, 0.587), (83.62, 0.573), (84.19, 0.558), (84.29, 0.556), (81.85, 0.535), (81.78, 0.587),
    (81.67, 0.606), (81.62, 0.649), (83.20, 0.631), (83.67, 0.650), (86.60, 0.656), (87.31, 0.659),
    (83.75, 0.682), (89.12, 0.691), (90.26, 0.690), (86.71, 0.733), (86.14, 0.726), (86.92, 0.718),
    (86.84, 0.709), (86.97, 0.710), (84.06, 0.729), (84.37, 0.729), (81.41, 0.732), (82.61, 0.755),
    (82.87, 0.764), (81.54, 0.758), (84.68, 0.758), (85.80, 0.759), (85.85, 0.752), (86.55, 0.772),
    (84.81, 0.793), (82.82, 0.791), (81.49, 0.788), (82.94, 0.805), (83.83, 0.808), (84.76, 0.820),
    (85.98, 0.815), (86.76, 0.814), (85.93, 0.807), (86.35, 0.830), (83.90, 0.843), (86.06, 0.855),
    (87.36, 0.865), (88.06, 0.840), (89.30, 0.823), (90.00, 0.801), (90.19, 0.781), (91.25, 0.795),
    (90.94, 0.756), (91.20, 0.850),
    (108.90, 0.877), (108.56, 0.863), (108.64, 0.859), (108.82, 0.857), (109.99, 0.900), (110.09, 0.888),
    (110.87, 0.887), (111.52, 0.886), (110.72, 0.868), (111.10, 0.850), (111.05, 0.849), (112.06, 0.848),
    (110.25, 0.836), (110.51, 0.831), (110.33, 0.789), (111.31, 0.781), (110.46, 0.771), (108.77, 0.765),
    (108.72, 0.755), (108.54, 0.745), (109.94, 0.747), (110.59, 0.738), (108.46, 0.704), (110.14, 0.701),
    (110.20, 0.687), (111.36, 0.705), (110.38, 0.621), (110.64, 0.595), (112.43, 0.613), (112.12, 0.598),
    (112.69, 0.588), (112.27, 0.578), (112.74, 0.571), (112.51, 0.556), (112.20, 0.545), (112.38, 0.546),
    (112.61, 0.542), (112.82, 0.543), (113.60, 0.543), (112.30, 0.518), (113.52, 0.520), (115.57, 0.561),
    (114.84, 0.551), (114.76, 0.659), (114.71, 0.685), (115.65, 0.697), (115.96, 0.710), (116.94, 0.671),
    (117.96, 0.709), (117.80, 0.760), (115.75, 0.743), (115.88, 0.759), (115.70, 0.775), (115.83, 0.798),
    (117.02, 0.873), (119.28, 0.866), (119.33, 0.858), (119.41, 0.840), (119.82, 0.818), (119.46, 0.741),
    (118.66, 0.531), (109.11, 0.991), (109.55, 0.990), (109.47, 0.987), (109.03, 0.975), (108.95, 0.957),
    (111.44, 0.986), (119.54, 0.968), (119.64, 0.968), (119.56, 0.958), (119.74, 0.952), (119.69, 0.942),
    (119.90, 0.927), (119.95, 0.923), (119.98, 0.905),
]

raw_lower_80_120 = [
    (87.18, 0.504), (81.75, 0.490), (81.39, 0.473), (82.37, 0.446), (85.62, 0.437), (84.87, 0.414),
    (82.69, 0.407), (83.57, 0.407), (83.96, 0.391), (89.07, 0.403), (90.32, 0.464), (90.50, 0.433),
    (90.58, 0.395), (90.45, 0.386), (88.14, 0.376), (94.52, 0.394), (81.08, 0.371), (81.00, 0.364),
    (82.56, 0.345), (81.93, 0.341), (81.31, 0.330), (82.43, 0.317), (82.76, 0.307), (81.13, 0.304),
    (82.11, 0.284), (90.76, 0.321), (90.39, 0.306), (90.68, 0.299), (85.38, 0.269), (80.95, 0.260),
    (80.87, 0.244), (80.64, 0.231), (85.31, 0.246), (85.44, 0.242), (84.58, 0.229), (85.57, 0.222),
    (88.94, 0.222), (90.63, 0.262), (84.45, 0.204), (82.48, 0.197), (84.27, 0.193), (85.12, 0.186),
    (80.35, 0.195), (80.43, 0.193), (81.18, 0.191), (80.69, 0.184), (80.56, 0.182), (80.82, 0.180),
    (81.98, 0.178), (81.23, 0.170), (88.89, 0.183), (82.06, 0.159), (84.01, 0.155), (85.20, 0.149),
    (80.51, 0.139), (80.74, 0.140), (88.21, 0.138), (89.02, 0.130), (85.49, 0.128), (85.25, 0.122),
    (82.30, 0.121), (83.52, 0.121), (85.07, 0.115), (88.32, 0.106), (84.50, 0.095), (80.30, 0.091),
    (88.27, 0.085), (82.17, 0.078), (84.94, 0.063), (84.99, 0.053), (82.24, 0.050), (88.40, 0.058),
    (88.58, 0.053), (83.44, 0.041), (80.14, 0.036), (80.19, 0.033), (80.25, 0.025), (83.39, 0.027),
    (83.26, 0.025), (83.31, 0.022), (88.50, 0.027), (88.45, 0.022), (88.65, 0.018), (88.81, 0.011),
    (88.73, 0.002),
    (97.95, 0.489), (101.63, 0.478), (102.51, 0.446), (101.32, 0.424), (104.90, 0.417), (106.20, 0.416),
    (108.40, 0.436), (106.25, 0.432), (106.38, 0.488), (107.63, 0.493), (108.22, 0.490), (105.00, 0.503),
    (108.02, 0.413), (108.33, 0.382), (108.28, 0.369), (101.45, 0.366), (101.53, 0.349), (104.95, 0.353),
    (102.57, 0.331), (102.83, 0.316), (107.89, 0.303), (107.94, 0.283), (100.39, 0.285), (101.37, 0.287),
    (101.58, 0.265), (107.45, 0.250), (102.75, 0.240), (107.37, 0.220), (104.82, 0.213), (100.44, 0.196),
    (106.43, 0.192), (104.15, 0.173), (106.69, 0.129), (107.21, 0.131), (107.57, 0.127), (107.83, 0.133),
    (107.68, 0.118), (106.64, 0.109), (107.50, 0.110), (107.76, 0.110), (104.33, 0.105), (104.28, 0.090),
    (107.32, 0.063), (104.20, 0.051), (106.51, 0.051), (107.13, 0.051), (107.24, 0.050), (106.74, 0.043),
    (106.56, 0.042), (104.77, 0.038), (106.82, 0.029), (106.90, 0.027), (107.06, 0.028), (104.38, 0.023),
    (106.95, 0.015), (107.00, 0.012), (104.59, 0.010), (104.70, 0.008), (104.49, 0.005),
    (112.56, 0.476), (113.47, 0.483), (114.40, 0.489), (115.52, 0.494), (115.44, 0.474), (117.88, 0.477),
    (118.60, 0.493), (117.75, 0.464), (116.87, 0.459), (115.39, 0.456), (115.34, 0.441), (116.19, 0.434),
    (113.00, 0.437), (113.29, 0.433), (114.32, 0.428), (113.16, 0.420), (114.27, 0.420), (116.14, 0.408),
    (114.48, 0.399), (113.08, 0.393), (114.89, 0.379), (116.81, 0.383), (115.26, 0.368), (112.95, 0.359),
    (118.71, 0.358), (119.20, 0.359), (118.79, 0.349), (116.76, 0.354), (113.21, 0.347), (113.39, 0.342),
    (112.90, 0.317), (113.65, 0.305), (114.64, 0.307), (113.34, 0.298), (119.02, 0.304), (118.48, 0.285),
    (119.15, 0.282), (115.21, 0.279), (116.01, 0.276), (116.50, 0.281), (116.68, 0.270), (118.06, 0.257),
    (118.84, 0.260), (119.07, 0.252), (116.43, 0.254), (115.15, 0.246), (115.02, 0.245), (114.95, 0.239),
    (114.01, 0.233), (113.70, 0.231), (115.08, 0.222), (116.24, 0.219), (116.06, 0.216), (118.11, 0.244),
    (114.53, 0.206), (118.53, 0.194), (118.94, 0.193), (118.89, 0.182), (116.55, 0.168), (116.63, 0.165),
    (113.96, 0.150), (114.19, 0.135), (114.58, 0.136), (116.37, 0.140), (118.19, 0.113), (113.78, 0.106),
    (118.01, 0.098), (118.40, 0.098), (114.14, 0.078), (113.88, 0.067), (116.32, 0.057), (118.24, 0.045),
    (118.32, 0.036), (113.83, 0.036),
]

# class label segments (start sec, end sec)
hand_start = [0.0, 77.15, 107.8]
hand_end = [27.3, 83.1, 119.95]
feet_start = [27.55, 49.5, 72.1, 83.35, 101.35]
feet_end = [37.7, 60.55, 76.95, 95.7, 107.6]
rest_start = [37.85, 60.7, 95.9]
rest_end = [49.3, 71.95, 101.15]
hand_level, feet_level, rest_level = 0.1, 0.9, 0.5

bg = '#121212'
fg = '#d4d4d4'

fig = plt.figure(figsize=(23.85, 12.43), dpi=100, facecolor='black')
ax = fig.add_axes([65 / 2385, 1 - 1187 / 1243, 2300 / 2385, 1160 / 1243])
ax.set_facecolor(bg)

raw = np.array(raw_upper_0_40 + raw_lower_0_40 + raw_upper_40_80 + raw_lower_40_80
               + raw_upper_80_120 + raw_lower_80_120)
ax.scatter(raw[:, 0], raw[:, 1], s=3.2, color='#f2f2f2', linewidths=0, zorder=2)


def segments(starts, ends, level):
    xs, ys = [], []
    for a, b in zip(starts, ends):
        xs += [a, b, np.nan]
        ys += [level, level, np.nan]
    return xs, ys


for st, en, lv, col in [(hand_start, hand_end, hand_level, '#ff0000'),
                        (feet_start, feet_end, feet_level, '#0000ff'),
                        (rest_start, rest_end, rest_level, '#00ff00')]:
    xs, ys = segments(st, en, lv)
    ax.plot(xs, ys, color=col, lw=4.4, solid_capstyle='round', zorder=3)

ax.set_xlim(0, 120)
ax.set_ylim(0, 1)
ax.set_xticks(np.arange(0, 121, 20))
ax.set_yticks(np.arange(0, 1.01, 0.1))
ax.yaxis.set_major_formatter(FuncFormatter(lambda v, p: '%g' % round(v, 2)))

ax.tick_params(direction='in', length=16.5, width=1.0, color='#a8a8a8',
               top=True, right=True, labelsize=14, labelcolor=fg)
ax.tick_params(axis='x', pad=11)
ax.tick_params(axis='y', pad=5.5)
for side in ['bottom', 'left']:
    ax.spines[side].set_color('#dcdcdc')
for side in ['top', 'right']:
    ax.spines[side].set_color('#a8a8a8')
for sp in ax.spines.values():
    sp.set_linewidth(1.0)

ax.set_title('classifier output probabilities', fontsize=15.5, fontweight='bold',
             color='#e0e0e0', pad=5.5)
ax.set_xlabel('sec', fontsize=15.5, color=fg, labelpad=3.5)
ax.set_ylabel('prob', fontsize=15.5, color=fg, labelpad=4)

handles = [
    Line2D([], [], ls='none', marker='o', ms=1.6, mfc='#f2f2f2', mec='none'),
    Line2D([], [], ls='none', marker='o', ms=2.6, mfc='#ff0000', mec='none'),
    Line2D([], [], ls='none', marker='o', ms=2.6, mfc='#0000ff', mec='none'),
    Line2D([], [], ls='none', marker='o', ms=2.6, mfc='#00ff00', mec='none'),
]
leg = ax.legend(handles, ['raw trn output', 'both hand', 'both feet', 'rest'],
                loc='upper right', fontsize=13, labelcolor=fg, frameon=True,
                fancybox=False, facecolor=bg, edgecolor='#b4b4b4', framealpha=1,
                handlelength=3.3, handletextpad=0.3, labelspacing=0.3,
                borderaxespad=0.85, borderpad=0.45)
leg.get_frame().set_linewidth(1.2)

fig.savefig('out.png', dpi=100, facecolor='black')
